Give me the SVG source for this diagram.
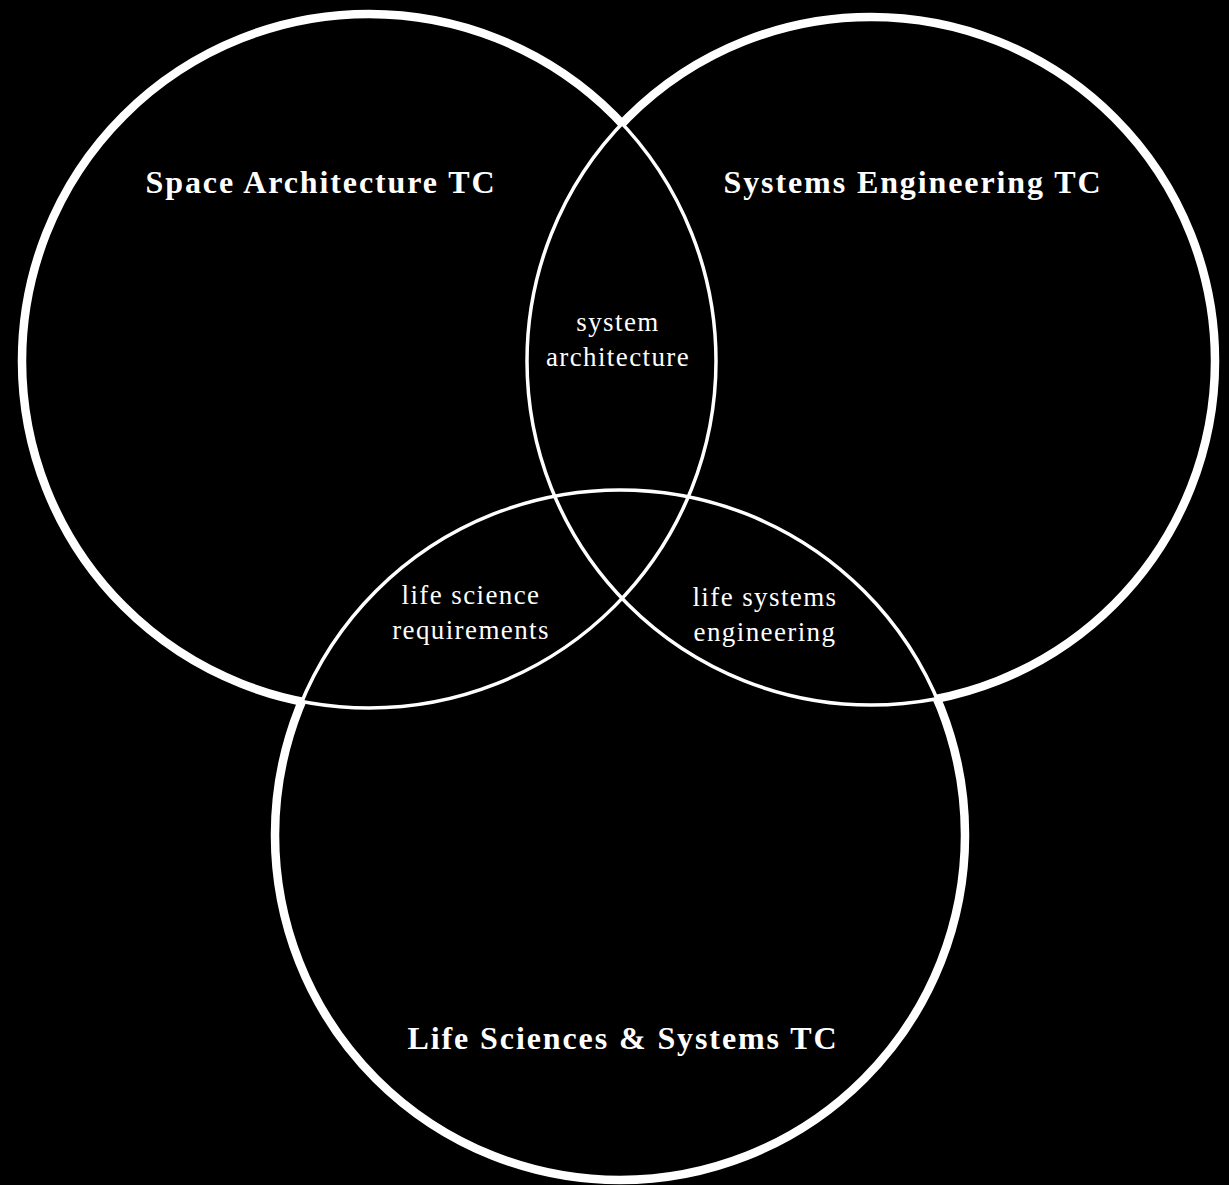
<svg xmlns="http://www.w3.org/2000/svg" xmlns:xlink="http://www.w3.org/1999/xlink" width="1229" height="1185" viewBox="0 0 1229 1185">
<style>
.thin{fill:none;stroke:#fff;stroke-width:3.5}
.thick{fill:none;stroke:#fff;stroke-width:8.5}
.title{font-family:"Liberation Serif","Times New Roman",serif;font-weight:bold;font-size:32px;letter-spacing:1.9px;fill:#fff;text-anchor:middle}
.lbl{font-family:"Liberation Serif","Times New Roman",serif;font-size:27px;letter-spacing:1.4px;fill:#fff;text-anchor:middle}
</style>
<defs>
<circle id="c1" cx="369" cy="361" r="347"/>
<circle id="c2" cx="871" cy="361" r="344"/>
<circle id="c3" cx="620" cy="835" r="345"/>
<mask id="m1" maskUnits="userSpaceOnUse" x="0" y="0" width="1229" height="1185"><rect width="1229" height="1185" fill="#fff"/><use xlink:href="#c2" fill="#000"/><use xlink:href="#c3" fill="#000"/></mask>
<mask id="m2" maskUnits="userSpaceOnUse" x="0" y="0" width="1229" height="1185"><rect width="1229" height="1185" fill="#fff"/><use xlink:href="#c1" fill="#000"/><use xlink:href="#c3" fill="#000"/></mask>
<mask id="m3" maskUnits="userSpaceOnUse" x="0" y="0" width="1229" height="1185"><rect width="1229" height="1185" fill="#fff"/><use xlink:href="#c1" fill="#000"/><use xlink:href="#c2" fill="#000"/></mask>
</defs>
<rect width="1229" height="1185" fill="#000"/>
<g id="space-architecture">
<use xlink:href="#c1" class="thin"/>
<use xlink:href="#c1" class="thick" mask="url(#m1)"/>
<text class="title" x="321" y="193">Space Architecture TC</text>
</g>
<g id="systems-engineering">
<use xlink:href="#c2" class="thin"/>
<use xlink:href="#c2" class="thick" mask="url(#m2)"/>
<text class="title" x="913" y="193">Systems Engineering TC</text>
</g>
<g id="life-sciences">
<use xlink:href="#c3" class="thin"/>
<use xlink:href="#c3" class="thick" mask="url(#m3)"/>
<text class="title" x="623" y="1049">Life Sciences &amp; Systems TC</text>
</g>
<g id="overlap-system-architecture">
<text class="lbl" x="618" y="331">system</text>
<text class="lbl" x="618" y="366">architecture</text>
</g>
<g id="overlap-life-science-requirements">
<text class="lbl" x="471" y="604">life science</text>
<text class="lbl" x="471" y="639">requirements</text>
</g>
<g id="overlap-life-systems-engineering">
<text class="lbl" x="765" y="606">life systems</text>
<text class="lbl" x="765" y="641">engineering</text>
</g>
<g id="connectors"/>
</svg>
